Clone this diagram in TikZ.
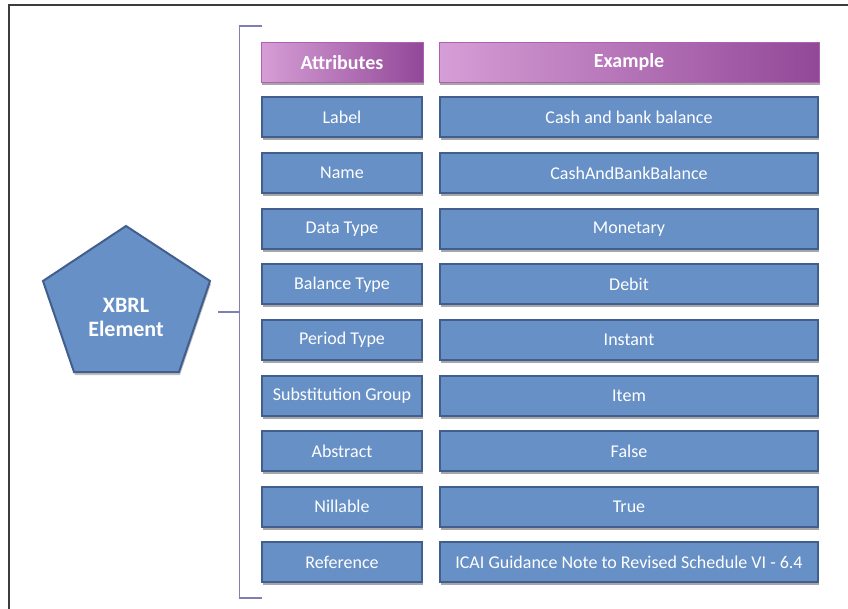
\documentclass[tikz,border=0pt]{standalone}
\usepackage{fontspec}
\setmainfont{Carlito}
\usetikzlibrary{shadows}
\definecolor{boxblue}{RGB}{102,144,198}
\definecolor{boxedge}{RGB}{66,94,140}
\definecolor{hdleft}{RGB}{214,158,214}
\definecolor{hdmid}{RGB}{192,112,196}
\definecolor{hdright}{RGB}{146,72,152}
\definecolor{hdedge}{RGB}{176,96,178}
\definecolor{brk}{RGB}{128,128,176}
\definecolor{frame}{RGB}{60,60,60}
\tikzset{
  shad/.style={drop shadow={shadow xshift=1pt, shadow yshift=-3pt, opacity=0.35, fill=black}},
  cell/.style={shad, draw=boxedge, line width=2pt, fill=boxblue, minimum height=40pt,
    inner sep=0pt, text=white, font=\fontsize{18}{20}\selectfont},
  attr/.style={cell, minimum width=160pt},
  exmp/.style={cell, minimum width=378pt},
  hdr/.style={shad, draw=hdedge, line width=1pt, left color=hdleft, middle color=hdmid, right color=hdright,
    minimum height=40pt, inner sep=0pt, text=white, font=\fontsize{20}{22}\selectfont\bfseries},
  brkline/.style={draw=brk, line width=1.6pt},
}
\begin{document}
\begin{tikzpicture}[x=1pt,y=-1pt]
\useasboundingbox (0,0) rectangle (848,609);
% outer frame (top and left edges visible)
\draw[frame, line width=1.5pt] (9,609) -- (9,5) -- (848,5);
% headers
\node[hdr, minimum width=162pt] (hA) at (342,62.5) {Attributes};
\node[hdr, minimum width=380pt] (hE) at (629,62.5) {Example};
% rows
\foreach \i/\a/\e in {0/Label/Cash and bank balance,
                      1/Name/CashAndBankBalance,
                      2/Data Type/Monetary,
                      3/Balance Type/Debit,
                      4/Period Type/Instant,
                      5/Substitution Group/Item,
                      6/Abstract/False,
                      7/Nillable/True,
                      8/Reference/{ICAI Guidance Note to Revised Schedule VI - 6.4}}{
  \node[attr] (a\i) at (342,117.5+55.6*\i) {\a};
  \node[exmp] (e\i) at (629,117.5+55.6*\i) {\e};
}
% bracket
\coordinate (bt) at (262,26);
\coordinate (bb) at (262,598);
\coordinate (bm) at (239.5,312);
\coordinate (cs) at (218,312);
\draw[brkline] (bt) -| (bm) |- (bb);
\draw[brkline] (cs) -- (bm);
% pentagon
\coordinate (p1) at (126,226);
\coordinate (p2) at (210,281);
\coordinate (p3) at (179,372);
\coordinate (p4) at (74,372);
\coordinate (p5) at (43,281);
\fill[black, opacity=0.25] ([shift={(1,3)}]p1) -- ([shift={(1,3)}]p2) -- ([shift={(1,3)}]p3) -- ([shift={(1,3)}]p4) -- ([shift={(1,3)}]p5) -- cycle;
\draw[boxedge, line width=2pt, fill=boxblue, line join=miter] (p1) -- (p2) -- (p3) -- (p4) -- (p5) -- cycle;
\node[text=white, font=\fontsize{22}{24}\selectfont\bfseries, align=center] (xbrl) at (126,317) {XBRL\\Element};
\end{tikzpicture}
\end{document}
